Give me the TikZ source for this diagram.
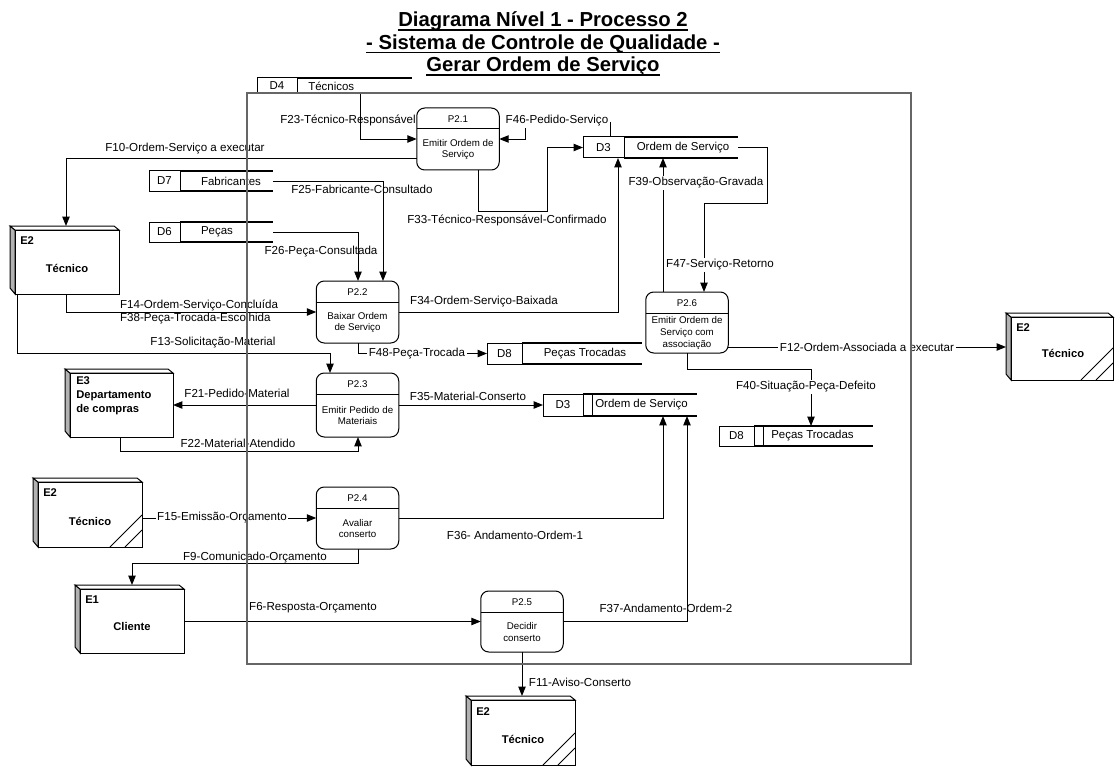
\documentclass[tikz,border=0pt]{standalone}
\usepackage{fontspec}
\setmainfont{Liberation Sans}
\usetikzlibrary{arrows.meta}
\newcommand\upx{0.75pt}

\tikzset{
  flow/.style={line width=0.7pt, -{Triangle[length=7pt,width=5.5pt]}},
  lbl/.style={font=\fontsize{8.7}{10}\selectfont, inner sep=0.6pt},
  lblw/.style={lbl, fill=white, inner sep=1.2pt},
  proc/.style={draw, line width=0.75pt, rounded corners=6pt, minimum width=82.5*\upx, inner sep=0, outer sep=0},
  ptext/.style={font=\fontsize{7.3}{8.8}\selectfont, inner sep=0, align=center},
  stxt/.style={font=\fontsize{8.6}{10}\selectfont, inner sep=0},
  etext/.style={font=\fontsize{8.4}{10.5}\selectfont\bfseries, inner sep=0},
  ghost/.style={inner sep=0, outer sep=0, draw=none},
  ent line/.style={line width=0.75pt},
  side face/.style={fill=black!30, line width=0.75pt},
  top face/.style={fill=white, line width=0.75pt},
  store line/.style={line width=0.75pt},
  store open/.style={line width=1.1pt},
  boundary/.style={draw=black!60, line width=1pt, inner sep=0, outer sep=0},
  title/.style={font=\fontsize{15.2}{18}\selectfont\bfseries, inner sep=0},
}

% process: name, centre x, centre y, height, id, text
\newcommand\process[6]{%
  \node[proc, minimum height=#4*\upx] (#1) at (#2,#3) {};
  \draw[line width=0.75pt] ([yshift=-21*\upx]#1.north west) -- ([yshift=-21*\upx]#1.north east);
  \node[ptext] (#1-id) at ([yshift=-11*\upx]#1.north) {#5};
  \node[ptext] (#1-tx) at ([yshift={(#4-21)/2*0.75pt}]#1.south) {#6};
}

% data store: name, x0, y0, divider x, open end x, y1, double divider (0/1)
\newcommand\datastore[7]{%
  \pgfmathsetmacro\scx{(#2+#5)/2}\pgfmathsetmacro\scy{(#3+#6)/2}%
  \pgfmathsetmacro\sw{#5-#2}\pgfmathsetmacro\sh{#6-#3}%
  \node[ghost, minimum width=\sw*\upx, minimum height=\sh*\upx] (#1) at (\scx,\scy) {};
  \draw[store line] (#2,#3) rectangle (#4,#6);
  \draw[store open] (#4,#3) -- (#5,#3) (#4,#6) -- (#5,#6);
  \ifnum#7=1\relax \draw[store line] (#4+9,#3) -- (#4+9,#6);\fi
}

% external entity: name, x0, y0, x1, y1, duplicate mark (0/1)
\newcommand\entity[6]{%
  \pgfmathsetmacro\ecx{(#2+#4)/2}\pgfmathsetmacro\ecy{(#3+#5)/2}%
  \pgfmathsetmacro\ew{#4-#2}\pgfmathsetmacro\eh{#5-#3}%
  \node[ghost, minimum width=\ew*\upx, minimum height=\eh*\upx] (#1) at (\ecx,\ecy) {};
  \filldraw[side face] (#2,#3) -- (#2+5,#3+4) -- (#2+5,#5) -- (#2,#5-6) -- cycle;
  \filldraw[top face] (#2,#3) -- (#4-5,#3) -- (#4,#3+4) -- (#2+5,#3+4) -- cycle;
  \draw[ent line] (#2+5,#3+4) rectangle (#4,#5);
  \ifnum#6=1\relax \draw[ent line] (#4-32,#5) -- (#4,#5-32) (#4-17,#5) -- (#4,#5-17);\fi
}

\begin{document}
\begin{tikzpicture}[x=0.75pt,y=-0.75pt]
\useasboundingbox (0,0) rectangle (1115,767);

% ---------- title ----------
\node[title, anchor=base] (t1) at (543,27) {Diagrama Nível 1 - Processo 2};
\node[title, anchor=base] (t2) at (543,49.5) {- Sistema de Controle de Qualidade -};
\node[title, anchor=base] (t3) at (543,72) {Gerar Ordem de Serviço};
\foreach \t in {t1,t2,t3}
  \draw[line width=1.1pt] ([yshift=-2.2pt]\t.base west) -- ([yshift=-2.2pt]\t.base east);

% ---------- external entities ----------
\entity{E2a}{10}{226}{119}{294}{0}
\node[etext, anchor=west] (E2a-id) at (20,241) {E2};
\node[etext] (E2a-tx) at (67,268) {Técnico};

\entity{E3}{65}{369}{173}{437}{0}
\node[etext, anchor=north west, align=left] (E3-tx) at (76,376) {E3\\Departamento\\de compras};

\entity{E2b}{33}{478}{142}{547}{1}
\node[etext, anchor=west] (E2b-id) at (43,493) {E2};
\node[etext] (E2b-tx) at (90,521) {Técnico};

\entity{E1}{75}{585}{184}{653}{0}
\node[etext, anchor=west] (E1-id) at (85,600) {E1};
\node[etext] (E1-tx) at (132,626) {Cliente};

\entity{E2c}{466}{696}{575}{765}{1}
\node[etext, anchor=west] (E2c-id) at (476,712) {E2};
\node[etext] (E2c-tx) at (523,739) {Técnico};

\entity{E2d}{1006}{313}{1113}{380}{1}
\node[etext, anchor=west] (E2d-id) at (1016,328) {E2};
\node[etext] (E2d-tx) at (1063,353) {Técnico};

% ---------- data stores ----------
\datastore{D4}{257}{78}{297}{412}{93}{0}
\node[stxt] (D4-id) at (277,86) {D4};
\node[stxt, anchor=west] (D4-tx) at (308,86) {Técnicos};

\datastore{D7}{149}{171}{180}{273}{191}{0}
\node[stxt] (D7-id) at (164.5,181) {D7};
\node[stxt] (D7-tx) at (231,181) {Fabricantes};

\datastore{D6}{149}{222}{180}{273}{242}{0}
\node[stxt] (D6-id) at (164.5,232) {D6};
\node[stxt] (D6-tx) at (217,232) {Peças};

\datastore{D3a}{583}{137}{624}{738}{158}{0}
\node[stxt] (D3a-id) at (603.5,148) {D3};
\node[stxt] (D3a-tx) at (683,148) {Ordem de Serviço};

\datastore{D8a}{487}{343}{522}{642}{364}{0}
\node[stxt] (D8a-id) at (504.5,354) {D8};
\node[stxt] (D8a-tx) at (585,354) {Peças Trocadas};

\datastore{D3b}{543}{394}{583}{697}{416}{1}
\node[stxt] (D3b-id) at (563,405) {D3};
\node[stxt, anchor=west] (D3b-tx) at (595,405) {Ordem de Serviço};

\datastore{D8b}{719}{426}{754}{873}{446}{1}
\node[stxt] (D8b-id) at (736.5,436) {D8};
\node[stxt, anchor=west] (D8b-tx) at (771,436) {Peças Trocadas};

% ---------- processes ----------
\process{P21}{458}{139}{62}{P2.1}{Emitir Ordem de\\Serviço}
\process{P22}{357.5}{312}{62}{P2.2}{Baixar Ordem\\de Serviço}
\process{P23}{357.5}{405}{64}{P2.3}{Emitir Pedido de\\Materiais}
\process{P24}{357.5}{518}{62}{P2.4}{Avaliar\\conserto}
\process{P25}{522}{621.5}{61}{P2.5}{Decidir\\conserto}
\process{P26}{687}{322.5}{61}{P2.6}{Emitir Ordem de\\Serviço com\\associação}

% ---------- bend points ----------
\coordinate (f23a) at (360,139);
\coordinate (f46a) at (610,122);
\coordinate (f46b) at (525,122);
\coordinate (f33a) at (478,211);
\coordinate (f33b) at (547,211);
\coordinate (f10)  at (66,158);
\coordinate (f25x) at (383,0);
\coordinate (f26x) at (358,0);
\coordinate (f14x) at (66,0);
\coordinate (f13a) at (17,353);
\coordinate (f13b) at (330,353);
\coordinate (f34x) at (618,0);
\coordinate (f48)  at (358,0);
\coordinate (f39x) at (663,0);
\coordinate (f47a) at (767,203);
\coordinate (f47b) at (704,203);
\coordinate (f12y) at (0,347);
\coordinate (f40a) at (687,369);
\coordinate (f40b) at (811,369);
\coordinate (f22a) at (120,451);
\coordinate (f22b) at (358,451);
\coordinate (f36x) at (663,0);
\coordinate (f9a)  at (132,563);
\coordinate (f9b)  at (358,563);
\coordinate (f37x) at (687,0);

% ---------- flows ----------
\draw[flow] (D4.south -| f23a) -- (f23a) -- (P21.west);
\draw[flow] (D3a.north -| f46a) -- (f46a) -- (f46b) -- (f46b |- P21.east) -- (P21.east);
\draw[flow] (P21.south -| f33a) -- (f33a) -- (f33b) -- (f33b |- D3a.west) -- (D3a.west);
\draw[flow] (P21.west |- f10) -- (f10) -- (E2a.north -| f10);
\draw[flow] (D7.east) -| (P22.north -| f25x);
\draw[flow] (D6.east) -| (P22.north -| f26x);
\draw[flow] (E2a.south -| f14x) |- (P22.west);
\draw[flow] (E2a.south -| f13a) -- (f13a) -- (f13b) -- (P23.north -| f13b);
\draw[flow] (P22.east) -| (D3a.south -| f34x);
\draw[flow] (P22.south -| f48) |- (D8a.west);
\draw[flow] (P26.north -| f39x) -- (D3a.south -| f39x);
\draw[flow] (D3a.east) -| (f47a) -- (f47b) -- (P26.north -| f47b);
\draw[flow] (P26.east |- f12y) -- (E2d.west |- f12y);
\draw[flow] (P26.south -| f40a) -- (f40a) -- (f40b) -- (D8b.north -| f40b);
\draw[flow] (P23.west) -- (P23.west -| E3.east);
\draw[flow] (E3.south -| f22a) -- (f22a) -- (f22b) -- (P23.south -| f22b);
\draw[flow] (P23.east) -- (P23.east -| D3b.west);
\draw[flow] (E2b.east |- P24.west) -- (P24.west);
\draw[flow] (P24.east) -| (D3b.south -| f36x);
\draw[flow] (P24.south -| f9b) -- (f9b) -- (f9a) -- (E1.north -| f9a);
\draw[flow] (E1.east |- P25.west) -- (P25.west);
\draw[flow] (P25.east) -| (D3b.south -| f37x);
\draw[flow] (P25.south) -- (E2c.north -| P25.south);

% ---------- flow labels ----------
\node[lbl]  (lF23) at (348,120) {F23-Técnico-Responsável};
\node[lblw] (lF46) at (557,121) {F46-Pedido-Serviço};
\node[lbl]  (lF10) at (185,149) {F10-Ordem-Serviço a executar};
\node[lbl]  (lF25) at (362,189) {F25-Fabricante-Consultado};
\node[lbl]  (lF33) at (507,220) {F33-Técnico-Responsável-Confirmado};
\node[lbl]  (lF26) at (321,252) {F26-Peça-Consultada};
\node[lblw] (lF39) at (696,183) {F39-Observação-Gravada};
\node[lblw] (lF47) at (720,265) {F47-Serviço-Retorno};
\node[lbl]  (lF34) at (484,302) {F34-Ordem-Serviço-Baixada};
\node[lbl, anchor=west] (lF14) at (119,305) {F14-Ordem-Serviço-Concluída};
\node[lbl, anchor=west] (lF38) at (119,319) {F38-Peça-Trocada-Escolhida};
\node[lbl]  (lF13) at (213,343) {F13-Solicitação-Material};
\node[lblw] (lF48) at (417,353.5) {F48-Peça-Trocada};
\node[lblw] (lF12) at (867,347) {F12-Ordem-Associada a executar};
\node[lblw] (lF40) at (806,387) {F40-Situação-Peça-Defeito};
\node[lbl]  (lF21) at (237,393) {F21-Pedido-Material};
\node[lbl]  (lF35) at (468,396) {F35-Material-Conserto};
\node[lbl]  (lF22) at (238,443) {F22-Material-Atendido};
\node[lblw] (lF15) at (222,518) {F15-Emissão-Orçamento};
\node[lbl]  (lF36) at (515,535) {F36- Andamento-Ordem-1};
\node[lbl]  (lF9)  at (255,558) {F9-Comunicado-Orçamento};
\node[lbl]  (lF6)  at (313,608) {F6-Resposta-Orçamento};
\node[lbl]  (lF37) at (666,608) {F37-Andamento-Ordem-2};
\node[lbl]  (lF11) at (580,682) {F11-Aviso-Conserto};

% ---------- process boundary ----------
\node[boundary, minimum width=664*\upx, minimum height=571*\upx] (bound) at (579,378.5) {};

\end{tikzpicture}
\end{document}
